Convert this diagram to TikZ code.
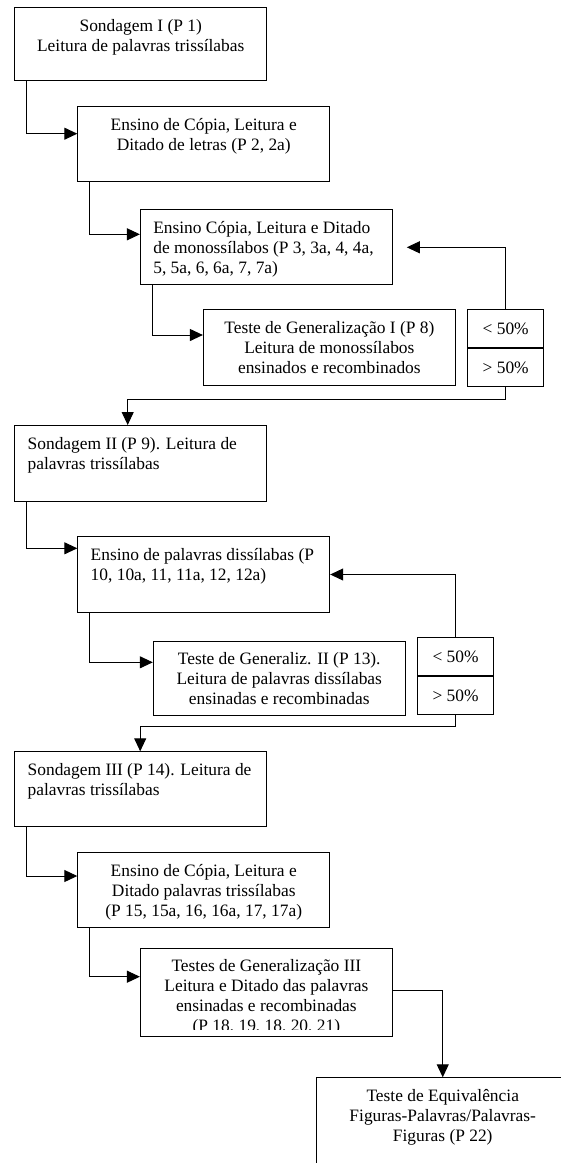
\documentclass[tikz,border=0pt]{standalone}
\usepackage{fontspec}
\setmainfont{Liberation Serif}
\usetikzlibrary{arrows.meta}
\newcommand\fs{\rule{0pt}{13pt}}
\begin{document}
\begin{tikzpicture}[x=1pt,y=-1pt,
  boxnode/.style={draw, line width=1pt, inner sep=0pt, anchor=north west, minimum width=251.9pt},
  txt/.style={inner sep=0pt, font=\fontsize{17.4}{20}\selectfont},
  arr/.style={line width=1pt, -{Triangle[length=13pt,width=12pt]}},
  pctnode/.style={draw, line width=1pt, minimum width=75.8pt, minimum height=38pt, inner sep=0pt,
    text height=12pt, text depth=0pt, font=\fontsize{17.4}{20}\selectfont}]
\clip (0,0) rectangle (561,1163);
\fill[white] (0,0) rectangle (561,1163);

% boxes
\node[boxnode, minimum height=73pt] (b1) at (14.3,7.3) {};
\node[txt, align=center, anchor=north] (t1) at ([yshift=-11pt]b1.north) {\fs Sondagem I (P 1)\\Leitura de palavras trissílabas};

\node[boxnode, minimum height=75pt] (b2) at (77.3,106) {};
\node[txt, align=center, anchor=north] (t2) at ([yshift=-11pt]b2.north) {\fs Ensino de Cópia, Leitura e\\Ditado de letras (P 2, 2a)};

\node[boxnode, minimum height=75pt] (b3) at (139.9,209.3) {};
\node[txt, align=left, anchor=north west] (t3) at ([xshift=13.2pt,yshift=-11pt]b3.north west) {\fs Ensino Cópia, Leitura e Ditado\\de monossílabos (P 3, 3a, 4, 4a,\\5, 5a, 6, 6a, 7, 7a)};

\node[boxnode, minimum height=76pt] (b4) at (202.9,309.3) {};
\node[txt, align=center, anchor=north] (t4) at ([yshift=-11pt]b4.north) {\fs Teste de Generalização I (P 8)\\Leitura de monossílabos\\ensinados e recombinados};

\node[pctnode, anchor=north west] (p1a) at (467.3,309.3) {< 50\%};
\node[pctnode, anchor=north] (p1b) at (p1a.south) {> 50\%};

\node[boxnode, minimum height=76pt] (b5) at (14.3,425) {};
\node[txt, align=left, anchor=north west] (t5) at ([xshift=13.2pt,yshift=-11pt]b5.north west) {\fs Sondagem II (P 9). Leitura de\\palavras trissílabas};

\node[boxnode, minimum height=75.4pt] (b6) at (77.3,536.3) {};
\node[txt, align=left, anchor=north west] (t6) at ([xshift=13.2pt,yshift=-11pt]b6.north west) {\fs Ensino de palavras dissílabas (P\\10, 10a, 11, 11a, 12, 12a)};

\node[boxnode, minimum height=74.3pt] (b7) at (152.8,640.7) {};
\node[txt, align=center, anchor=north] (t7) at ([yshift=-11pt]b7.north) {\fs Teste de Generaliz. II (P 13).\\Leitura de palavras dissílabas\\ensinadas e recombinadas};

\node[pctnode, anchor=north west] (p2a) at (417.2,637) {< 50\%};
\node[pctnode, anchor=north, minimum height=37.7pt] (p2b) at (p2a.south) {> 50\%};

\node[boxnode, minimum height=74.4pt] (b8) at (14.3,751.3) {};
\node[txt, align=left, anchor=north west] (t8) at ([xshift=13.2pt,yshift=-11pt]b8.north west) {\fs Sondagem III (P 14). Leitura de\\palavras trissílabas};

\node[boxnode, minimum height=74.7pt] (b9) at (77.3,852) {};
\node[txt, align=center, anchor=north] (t9) at ([yshift=-11pt]b9.north) {\fs Ensino de Cópia, Leitura e\\Ditado palavras trissílabas\\(P 15, 15a, 16, 16a, 17, 17a)};

\node[boxnode, minimum height=88pt] (b10) at (139.9,947.7) {};
\begin{scope}
\clip (b10.north west) rectangle ([yshift=7.4pt]b10.south east);
\node[txt, align=center, anchor=north] (t10) at ([yshift=-11pt]b10.north) {\fs Testes de Generalização III\\Leitura e Ditado das palavras\\ensinadas e recombinadas\\(P 18, 19, 18, 20, 21)};
\end{scope}

\node[boxnode, minimum height=120pt] (b11) at (316.3,1077.3) {};
\node[txt, align=center, anchor=north] (t11) at ([yshift=-11pt]b11.north) {\fs Teste de Equivalência\\Figuras-Palavras/Palavras-\\Figuras (P 22)};

% connectors
\draw[arr] ([xshift=12.5pt]b1.south west) |- ([yshift=-27.7pt]b2.north west);
\draw[arr] ([xshift=12.1pt]b2.south west) |- ([yshift=-25pt]b3.north west);
\draw[arr] ([xshift=12.9pt]b3.south west) |- ([yshift=-25.7pt]b4.north west);
\draw[arr, shorten >=14pt] (p1a.north) |- (b3.east);
\draw[arr] (p1b.south) -- ++(0,12) -| ([xshift=113.4pt]b5.north west);
\draw[arr] ([xshift=12.5pt]b5.south west) |- ([yshift=-12pt]b6.north west);
\draw[arr] (p2a.north) |- (b6.east);
\draw[arr] ([xshift=12.1pt]b6.south west) |- ([yshift=-21.6pt]b7.north west);
\draw[arr] (p2b.south) -- ++(0,12) -| ([xshift=125.9pt]b8.north west);
\draw[arr] ([xshift=12.5pt]b8.south west) |- ([yshift=-24pt]b9.north west);
\draw[arr] ([xshift=12.1pt]b9.south west) |- ([yshift=-29pt]b10.north west);
\draw[arr] ([yshift=2pt]b10.east) -| (b11.north);
\end{tikzpicture}
\end{document}
